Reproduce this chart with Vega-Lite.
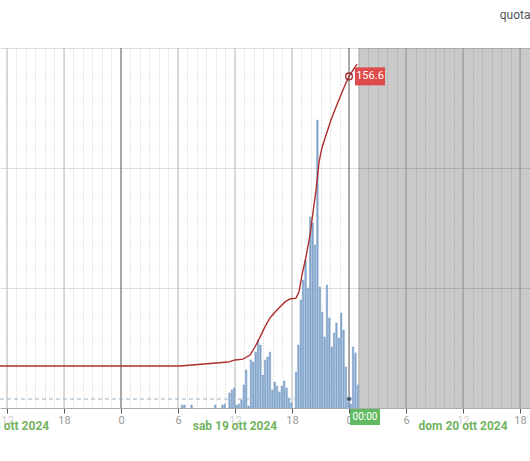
{
  "$schema": "https://vega.github.io/schema/vega-lite/v6.json",
  "width": 530,
  "height": 360,
  "autosize": "none",
  "padding": {"left": 0, "top": 48, "right": 0, "bottom": 53},
  "title": {"text": "quota", "anchor": "end", "align": "right", "dx": 0, "offset": 26, "fontSize": 12, "fontWeight": "normal", "color": "#555", "font": "Roboto"},
  "config": {"view": {"stroke": null}, "font": "Roboto"},
  "datasets": {
    "rain": [
      {"t": "2024-10-19T06:15:00", "v": 0.3},
      {"t": "2024-10-19T06:30:00", "v": 0.3},
      {"t": "2024-10-19T07:15:00", "v": 0.3},
      {"t": "2024-10-19T09:45:00", "v": 0.3},
      {"t": "2024-10-19T10:30:00", "v": 0.3},
      {"t": "2024-10-19T10:45:00", "v": 0.4},
      {"t": "2024-10-19T11:15:00", "v": 1.5},
      {"t": "2024-10-19T11:30:00", "v": 1.8},
      {"t": "2024-10-19T11:45:00", "v": 2.0},
      {"t": "2024-10-19T12:00:00", "v": 0.3},
      {"t": "2024-10-19T12:15:00", "v": 0.4},
      {"t": "2024-10-19T12:30:00", "v": 0.8},
      {"t": "2024-10-19T12:45:00", "v": 2.3},
      {"t": "2024-10-19T13:00:00", "v": 3.8},
      {"t": "2024-10-19T13:15:00", "v": 0.2},
      {"t": "2024-10-19T13:30:00", "v": 4.8},
      {"t": "2024-10-19T13:45:00", "v": 4.6},
      {"t": "2024-10-19T14:00:00", "v": 5.6},
      {"t": "2024-10-19T14:15:00", "v": 6.8},
      {"t": "2024-10-19T14:30:00", "v": 6.3},
      {"t": "2024-10-19T14:45:00", "v": 3.3},
      {"t": "2024-10-19T15:00:00", "v": 4.8},
      {"t": "2024-10-19T15:15:00", "v": 5.1},
      {"t": "2024-10-19T15:30:00", "v": 5.6},
      {"t": "2024-10-19T15:45:00", "v": 1.8},
      {"t": "2024-10-19T16:00:00", "v": 2.6},
      {"t": "2024-10-19T16:15:00", "v": 2.2},
      {"t": "2024-10-19T16:30:00", "v": 1.6},
      {"t": "2024-10-19T16:45:00", "v": 2.2},
      {"t": "2024-10-19T17:00:00", "v": 2.7},
      {"t": "2024-10-19T17:15:00", "v": 2.0},
      {"t": "2024-10-19T17:30:00", "v": 1.0},
      {"t": "2024-10-19T17:45:00", "v": 0.5},
      {"t": "2024-10-19T18:15:00", "v": 3.6},
      {"t": "2024-10-19T18:30:00", "v": 6.3},
      {"t": "2024-10-19T18:45:00", "v": 10.8},
      {"t": "2024-10-19T19:00:00", "v": 12.8},
      {"t": "2024-10-19T19:15:00", "v": 14.8},
      {"t": "2024-10-19T19:30:00", "v": 12.0},
      {"t": "2024-10-19T19:45:00", "v": 19.1},
      {"t": "2024-10-19T20:00:00", "v": 18.5},
      {"t": "2024-10-19T20:15:00", "v": 16.3},
      {"t": "2024-10-19T20:30:00", "v": 28.8},
      {"t": "2024-10-19T20:45:00", "v": 12.1},
      {"t": "2024-10-19T21:00:00", "v": 9.6},
      {"t": "2024-10-19T21:15:00", "v": 7.1},
      {"t": "2024-10-19T21:30:00", "v": 12.3},
      {"t": "2024-10-19T21:45:00", "v": 9.0},
      {"t": "2024-10-19T22:00:00", "v": 6.1},
      {"t": "2024-10-19T22:15:00", "v": 7.5},
      {"t": "2024-10-19T22:30:00", "v": 8.5},
      {"t": "2024-10-19T22:45:00", "v": 7.0},
      {"t": "2024-10-19T23:00:00", "v": 9.5},
      {"t": "2024-10-19T23:15:00", "v": 7.8},
      {"t": "2024-10-19T23:30:00", "v": 4.1},
      {"t": "2024-10-19T23:45:00", "v": 0.6},
      {"t": "2024-10-20T00:00:00", "v": 0.4},
      {"t": "2024-10-20T00:15:00", "v": 6.1},
      {"t": "2024-10-20T00:30:00", "v": 5.5},
      {"t": "2024-10-20T00:45:00", "v": 2.3}
    ],
    "level": [
      {"t": "2024-10-18T11:16:00", "v": 19.8},
      {"t": "2024-10-19T06:13:00", "v": 19.8},
      {"t": "2024-10-19T11:16:00", "v": 21.7},
      {"t": "2024-10-19T12:00:00", "v": 22.7},
      {"t": "2024-10-19T12:51:00", "v": 23.1},
      {"t": "2024-10-19T13:35:00", "v": 25.0},
      {"t": "2024-10-19T14:06:00", "v": 28.8},
      {"t": "2024-10-19T14:38:00", "v": 33.5},
      {"t": "2024-10-19T15:09:00", "v": 38.3},
      {"t": "2024-10-19T15:41:00", "v": 42.5},
      {"t": "2024-10-19T16:13:00", "v": 45.3},
      {"t": "2024-10-19T16:44:00", "v": 47.7},
      {"t": "2024-10-19T17:16:00", "v": 50.1},
      {"t": "2024-10-19T17:47:00", "v": 51.5},
      {"t": "2024-10-19T18:25:00", "v": 51.9},
      {"t": "2024-10-19T18:44:00", "v": 54.8},
      {"t": "2024-10-19T19:03:00", "v": 62.8},
      {"t": "2024-10-19T19:28:00", "v": 71.3},
      {"t": "2024-10-19T19:54:00", "v": 81.7},
      {"t": "2024-10-19T20:13:00", "v": 92.6},
      {"t": "2024-10-19T20:32:00", "v": 102.9},
      {"t": "2024-10-19T20:51:00", "v": 116.2},
      {"t": "2024-10-19T21:09:00", "v": 122.8},
      {"t": "2024-10-19T21:35:00", "v": 128.9},
      {"t": "2024-10-19T22:06:00", "v": 136.0},
      {"t": "2024-10-19T22:38:00", "v": 142.1},
      {"t": "2024-10-19T23:09:00", "v": 147.8},
      {"t": "2024-10-19T23:35:00", "v": 152.5},
      {"t": "2024-10-20T00:00:00", "v": 156.6},
      {"t": "2024-10-20T00:25:00", "v": 159.6},
      {"t": "2024-10-20T00:51:00", "v": 162.4}
    ],
    "major": [
      {"t": "2024-10-18T12:00:00"},
      {"t": "2024-10-18T18:00:00"},
      {"t": "2024-10-19T06:00:00"},
      {"t": "2024-10-19T12:00:00"},
      {"t": "2024-10-19T18:00:00"},
      {"t": "2024-10-20T06:00:00"},
      {"t": "2024-10-20T12:00:00"},
      {"t": "2024-10-20T18:00:00"}
    ],
    "midnight": [
      {"t": "2024-10-19T00:00:00"},
      {"t": "2024-10-20T00:00:00"}
    ],
    "days": [
      {"t": "2024-10-18T12:00:00", "label": "ven 18 ott 2024"},
      {"t": "2024-10-19T12:00:00", "label": "sab 19 ott 2024"},
      {"t": "2024-10-20T12:00:00", "label": "dom 20 ott 2024"}
    ],
    "now": [
      {"t": "2024-10-20T00:00:00", "level": 156.6, "rain": 0.9, "base": 0, "levelLabel": "156.6", "timeLabel": "00:00"}
    ]
  },
  "layer": [
    {
      "data": {"name": "major"},
      "mark": {"type": "rule", "color": "#bcbcbc", "strokeWidth": 1},
      "encoding": {
        "x": {"field": "t", "type": "temporal", "title": null,
          "scale": {"domain": [{"year": 2024, "month": 10, "date": 18, "hours": 11, "minutes": 16}, {"year": 2024, "month": 10, "date": 20, "hours": 19, "minutes": 3}]},
          "axis": {"tickCount": 56, "grid": true, "gridDash": [1, 2], "gridColor": "#c8c8c8",
            "ticks": true, "tickSize": 5,
            "tickColor": {"condition": {"test": "hours(datum.value) % 6 == 0", "value": "#555"}, "value": "transparent"},
            "domainColor": "#aaa", "labelOverlap": false,
            "labelExpr": "hours(datum.value) % 6 == 0 ? '' + hours(datum.value) : ''",
            "labelColor": {"condition": {"test": "hours(datum.value) == 12", "value": "#d2d2d2"}, "value": "#9a9a9a"},
            "labelFontSize": 11, "labelPadding": 1, "title": null}}
      }
    },
    {
      "data": {"name": "midnight"},
      "mark": {"type": "rule", "color": "#5a5a5a", "strokeWidth": 1},
      "encoding": {
        "x": {"field": "t", "type": "temporal", "title": null}
      }
    },
    {
      "data": {"values": [{"start": "2024-10-20T00:57:00", "end": "2024-10-20T23:00:00"}]},
      "mark": {"type": "rect", "color": "#000", "opacity": 0.21, "clip": true},
      "encoding": {
        "x": {"field": "start", "type": "temporal", "title": null},
        "x2": {"field": "end"}
      }
    },
    {
      "data": {"name": "rain"},
      "mark": {"type": "bar", "color": "#82a5cc", "stroke": "#82a5cc", "strokeWidth": 0.7},
      "encoding": {
        "x": {"field": "t", "type": "temporal", "timeUnit": {"unit": "yearmonthdatehoursminutes", "step": 15}, "title": null},
        "y": {"field": "v", "type": "quantitative", "scale": {"domain": [0, 36]}, "axis": null}
      }
    },
    {
      "data": {"values": [{"t1": "2024-10-18T11:16:00", "t2": "2024-10-20T00:00:00", "v": 0.9}]},
      "mark": {"type": "rule", "color": "#9ab4c9", "strokeDash": [4, 3], "strokeWidth": 1},
      "encoding": {
        "x": {"field": "t1", "type": "temporal", "title": null},
        "x2": {"field": "t2"},
        "y": {"field": "v", "type": "quantitative", "scale": {"domain": [0, 36]}, "axis": null}
      }
    },
    {
      "data": {"name": "level"},
      "mark": {"type": "line", "color": "#ae2f2f", "strokeWidth": 1.4},
      "encoding": {
        "x": {"field": "t", "type": "temporal", "title": null},
        "y": {"field": "v", "type": "quantitative", "scale": {"domain": [0, 170]},
          "axis": {"values": [56.667, 113.333, 170], "grid": true, "gridColor": "#dcdcdc", "labels": false, "ticks": false, "domain": false, "title": null}}
      }
    },
    {
      "data": {"name": "now"},
      "mark": {"type": "point", "filled": true, "color": "#3a4a5a", "size": 22, "stroke": "#9ab4c9", "strokeWidth": 1, "opacity": 1},
      "encoding": {
        "x": {"field": "t", "type": "temporal", "title": null},
        "y": {"field": "rain", "type": "quantitative", "scale": {"domain": [0, 36]}, "axis": null}
      }
    },
    {
      "data": {"name": "now"},
      "mark": {"type": "point", "filled": true, "color": "#62bb62", "opacity": 1, "size": 400, "shape": "M0.1,0.1L3.1,0.1L3.1,1.7L0.1,1.7Z"},
      "encoding": {
        "x": {"field": "t", "type": "temporal", "title": null},
        "y": {"field": "base", "type": "quantitative", "scale": {"domain": [0, 36]}, "axis": null}
      }
    },
    {
      "data": {"name": "now"},
      "mark": {"type": "text", "color": "white", "fontSize": 10, "dx": 16, "dy": 9, "align": "center", "baseline": "middle"},
      "encoding": {
        "x": {"field": "t", "type": "temporal", "title": null},
        "y": {"field": "base", "type": "quantitative", "scale": {"domain": [0, 36]}, "axis": null},
        "text": {"field": "timeLabel"}
      }
    },
    {
      "data": {"name": "now"},
      "mark": {"type": "point", "filled": true, "color": "#e04a4a", "opacity": 1, "size": 400, "shape": "M0.6,-0.9L3.6,-0.9L3.6,0.9L0.6,0.9Z"},
      "encoding": {
        "x": {"field": "t", "type": "temporal", "title": null},
        "y": {"field": "level", "type": "quantitative", "scale": {"domain": [0, 170]}, "axis": null}
      }
    },
    {
      "data": {"name": "now"},
      "mark": {"type": "point", "filled": false, "color": "#9c2a2a", "size": 45, "strokeWidth": 1.3, "opacity": 1},
      "encoding": {
        "x": {"field": "t", "type": "temporal", "title": null},
        "y": {"field": "level", "type": "quantitative", "scale": {"domain": [0, 170]}, "axis": null}
      }
    },
    {
      "data": {"name": "now"},
      "mark": {"type": "text", "color": "white", "fontSize": 11, "dx": 21, "align": "center", "baseline": "middle"},
      "encoding": {
        "x": {"field": "t", "type": "temporal", "title": null},
        "y": {"field": "level", "type": "quantitative", "scale": {"domain": [0, 170]}, "axis": null},
        "text": {"field": "levelLabel"}
      }
    },
    {
      "data": {"name": "days"},
      "mark": {"type": "text", "color": "#72b361", "fontWeight": "bold", "fontSize": 12, "baseline": "middle", "align": "center"},
      "encoding": {
        "x": {"field": "t", "type": "temporal", "title": null},
        "y": {"datum": -1.8, "type": "quantitative", "scale": {"domain": [0, 36]}, "axis": null},
        "text": {"field": "label"}
      }
    }
  ],
  "resolve": {"scale": {"y": "independent"}}
}
